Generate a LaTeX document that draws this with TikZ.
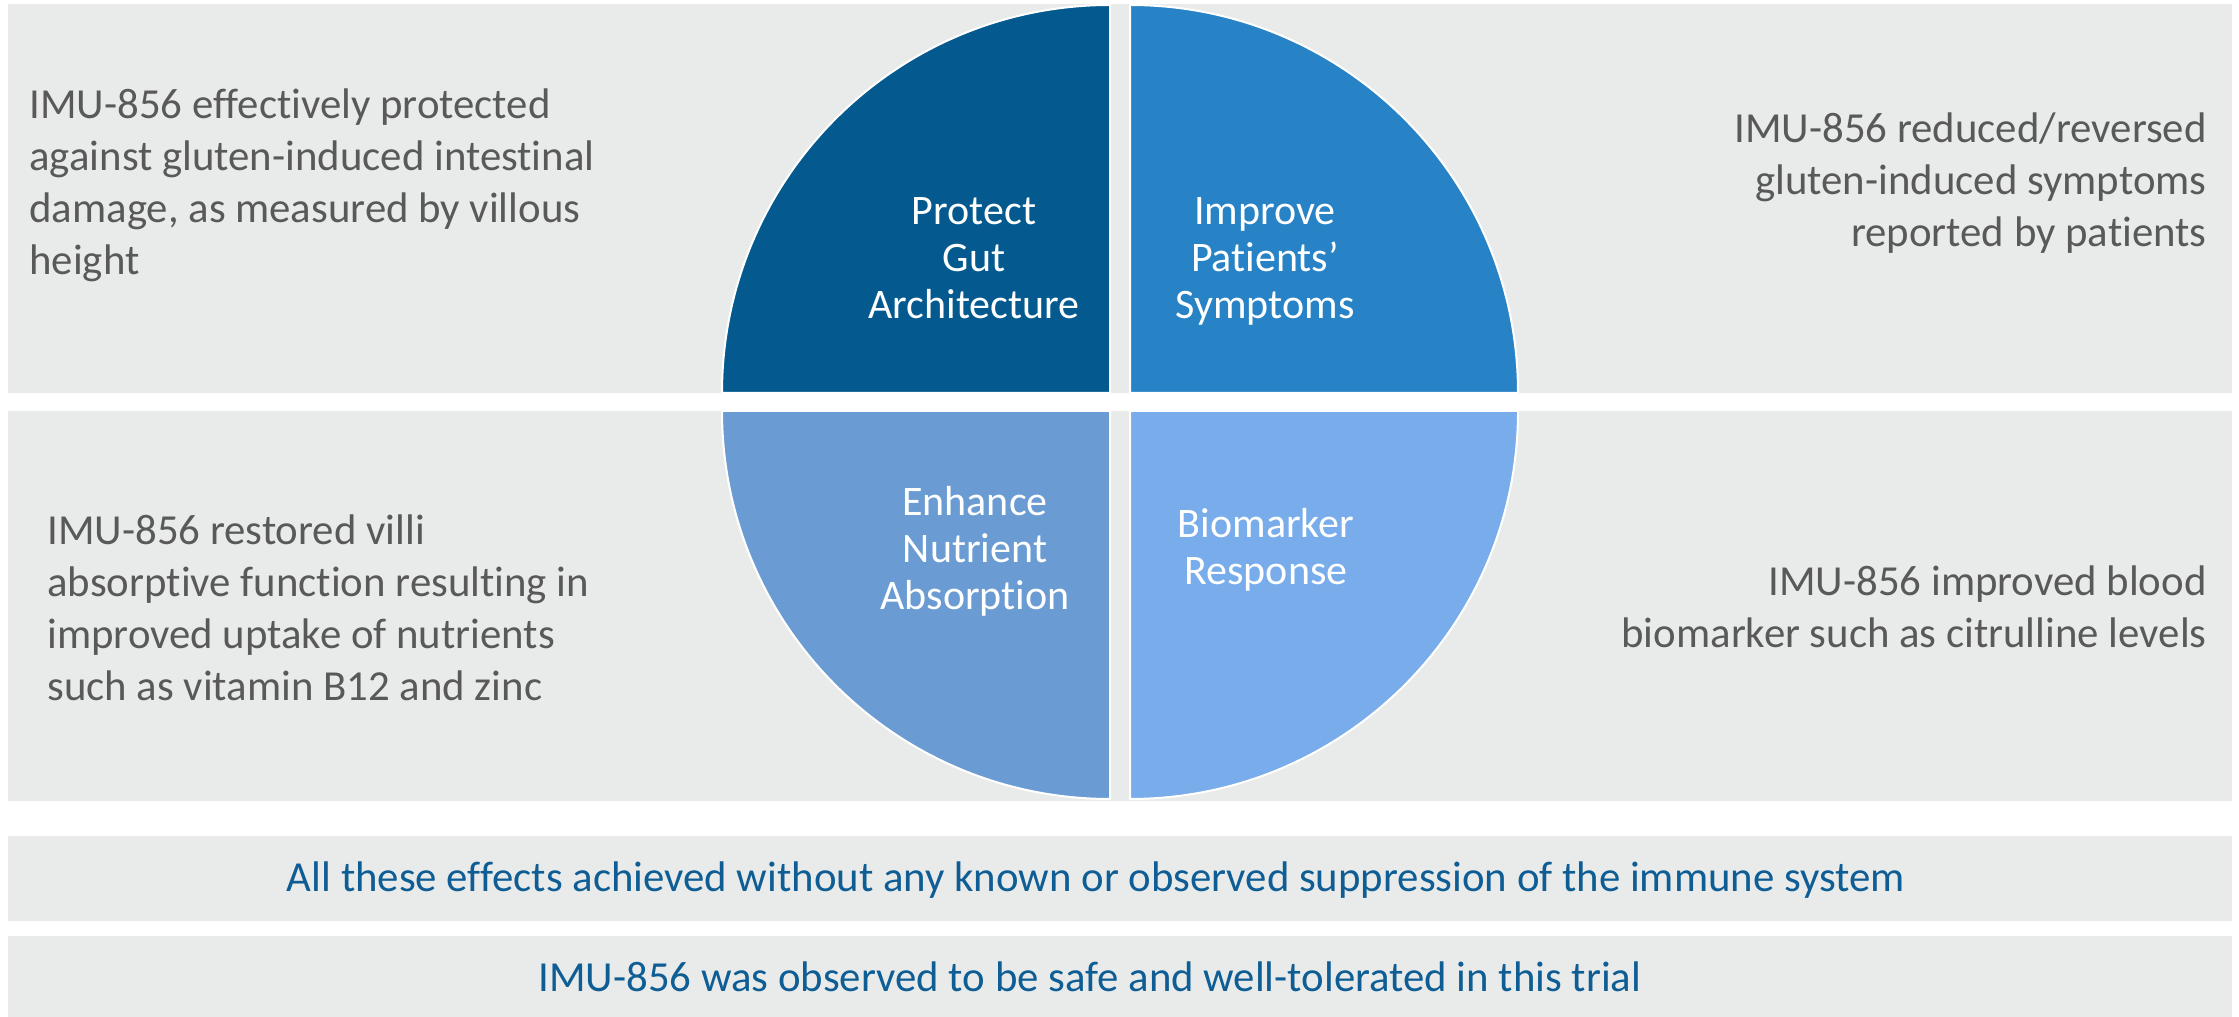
\documentclass[tikz,border=0pt]{standalone}
\usepackage{fontspec}
\setmainfont[RawFeature={-liga;-clig;-calt;-dlig}]{Carlito}
\definecolor{bandgray}{HTML}{E9EBEA}
\definecolor{txtgray}{HTML}{595959}
\definecolor{txtblue}{HTML}{0E5D94}
\definecolor{qprotect}{HTML}{045A8F}
\definecolor{qimprove}{HTML}{2782C6}
\definecolor{qenhance}{HTML}{6A9CD3}
\definecolor{qbiomark}{HTML}{78ACEA}
\begin{document}
\begin{tikzpicture}[x=0.5pt,y=0.5pt,
  band/.style={fill=bandgray},
  quad/.style={draw=white,line width=1pt},
  side/.style={text=txtgray,inner sep=0pt,font=\fontsize{21.4}{26}\selectfont},
  qtext/.style={text=white,inner sep=0pt,align=center,font=\fontsize{21}{23.5}\selectfont},
  foot/.style={text=txtblue,inner sep=0pt,font=\fontsize{21.4}{26}\selectfont}]
\useasboundingbox (0,0) rectangle (2239,1017);
% bands
\path[band] (8,624) rectangle (2232,1013);
\path[band] (8,216) rectangle (2232,606);
\path[band] (8,96) rectangle (2232,181);
\path[band] (8,0) rectangle (2232,81);
% quadrants
\path[quad,fill=qprotect] (1110,624) -- (722,624) arc[start angle=180,end angle=90,radius=388] -- cycle;
\path[quad,fill=qimprove] (1130,624) -- (1518,624) arc[start angle=0,end angle=90,radius=388] -- cycle;
\path[quad,fill=qenhance] (1110,606) -- (722,606) arc[start angle=180,end angle=270,radius=388] -- cycle;
\path[quad,fill=qbiomark] (1130,606) -- (1518,606) arc[start angle=360,end angle=270,radius=388] -- cycle;
% quadrant labels
\node[qtext] (protect) at (974,759) {Protect\\Gut\\Architecture};
\node[qtext] (improve) at (1265,756) {Improve\\Patients’\\Symptoms};
\node[qtext] (enhance) at (975,466) {Enhance\\Nutrient\\Absorption};
\node[qtext] (biomark) at (1266,467) {Biomarker\\Response};
% side texts
\node[side,align=left,anchor=west] (tl) at (29,832) {IMU-856 effectively protected\\against gluten-induced intestinal\\damage, as measured by villous\\height};
\node[side,align=right,anchor=east] (tr) at (2207,834) {IMU-856 reduced/reversed\\gluten-induced symptoms\\reported by patients};
\node[side,align=left,anchor=west] (ml) at (47,409) {IMU-856 restored villi\\absorptive function resulting in\\improved uptake of nutrients\\such as vitamin B12 and zinc};
\node[side,align=right,anchor=east] (mr) at (2207,410) {IMU-856 improved blood\\biomarker such as citrulline levels};
% footer texts
\node[foot] (f1) at (1096,137) {All these effects achieved without any known or observed suppression of the immune system};
\node[foot] (f2) at (1090,40) {IMU-856 was observed to be safe and well-tolerated in this trial};
\end{tikzpicture}
\end{document}
